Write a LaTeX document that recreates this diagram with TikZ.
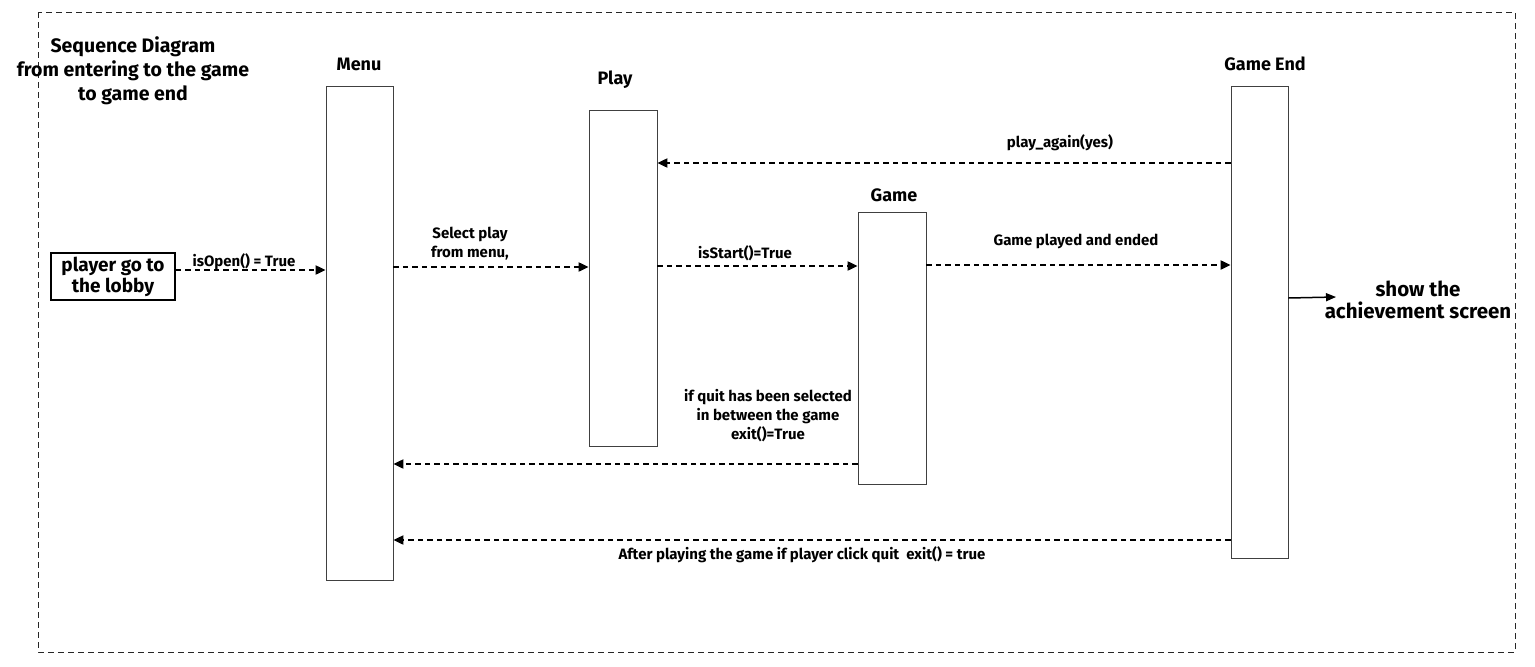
\documentclass[tikz,border=0pt]{standalone}
\usepackage{fontspec}
\setmainfont{Fira Sans}
\usetikzlibrary{arrows.meta}

\begin{document}
\begin{tikzpicture}[
  x=1pt, y=-1pt,
  font=\bfseries,
  lifebox/.style={rectangle, draw=black!75, line width=0.8pt, inner sep=0pt},
  actor/.style={font=\bfseries\fontsize{18}{22}\selectfont},
  lbl/.style={font=\bfseries\fontsize{15}{19}\selectfont, align=center},
  msg/.style={-{Triangle[length=10pt,width=9pt]}, line width=2pt, dash pattern=on 5.5pt off 4pt},
  reply/.style={-{Triangle[length=10pt,width=8pt]}, line width=1.5pt}
]

\useasboundingbox (0,0) rectangle (1535,667);

%======================
% FRAME + TITLE
%======================

\draw[black!85, line width=1pt, dash pattern=on 6pt off 4pt] (38,12) rectangle (1515,652);

\node[align=center, font=\bfseries\fontsize{19.5}{24}\selectfont] (title) at (133,71)
  {Sequence Diagram\\from entering to the game\\to game end};

%======================
% LIFELINES
%======================

\node[lifebox, minimum width=67, minimum height=494] (menu) at (359.5,333) {};
\node[lifebox, minimum width=68, minimum height=336] (play) at (623,278) {};
\node[lifebox, minimum width=68, minimum height=272] (game) at (892,348) {};
\node[lifebox, minimum width=57, minimum height=472] (gend) at (1259.5,322) {};

\node[actor] (menulbl) at (359,64) {Menu};
\node[actor] (playlbl) at (615,80) {Play};
\node[actor] (gamelbl) at (894,195) {Game};
\node[actor] (gendlbl) at (1265,64) {Game End};

% start box
\node[draw, line width=1.8pt, minimum width=124, minimum height=47, inner sep=1pt, align=center,
  font=\bfseries\fontsize{19}{21}\selectfont] (lobby) at (113,276.5) {player go to\\the lobby};

% end text
\node[align=center, font=\bfseries\fontsize{20.5}{22}\selectfont] (achv) at (1418,300)
  {show the\\achievement screen};

%======================
% MESSAGES
%======================

\draw[msg] (lobby.east |- 0,270) -- (menu.west |- 0,270);
\node[lbl] (isopen) at (244,262) {isOpen() = True};

\draw[msg] (menu.east |- 0,267) -- (play.west |- 0,267);
\node[lbl] (select) at (470,244) {Select play\\from menu,};

\draw[msg] (play.east |- 0,266) -- (game.west |- 0,266);
\node[lbl] (isstart) at (745,253) {isStart()=True};

\draw[msg] (game.east |- 0,265) -- (gend.west |- 0,265);
\node[lbl] (played) at (1076,241) {Game played and ended};

\draw[msg] (gend.west |- 0,163) -- (play.east |- 0,163);
\node[lbl] (again) at (1060,143) {play\_again(yes)};

\draw[reply] (gend.east |- 0,298) -- (1336,297);

\draw[msg] (game.west |- 0,464) -- (menu.east |- 0,464);
\node[lbl] (quit) at (768,416) {if quit has been selected\\in between the game\\exit()=True};

\draw[msg] (gend.west |- 0,540) -- (menu.east |- 0,540);
\node[lbl] (after) at (802,555) {After playing the game if player click quit \ exit() = true};

\end{tikzpicture}
\end{document}
